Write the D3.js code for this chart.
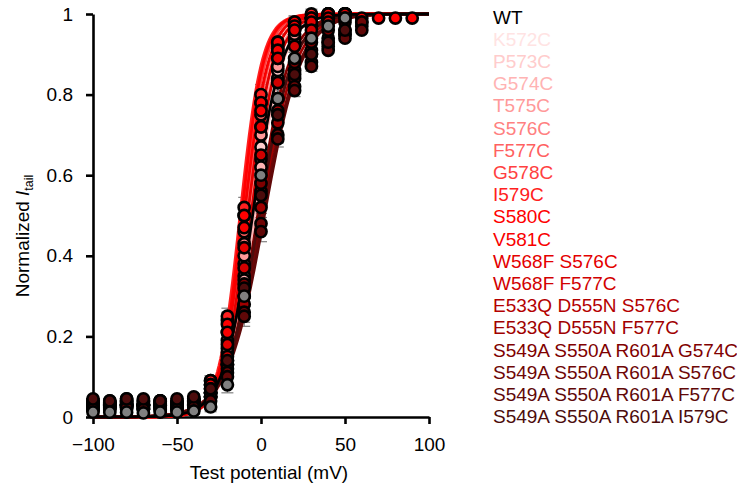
<!DOCTYPE html>
<html>
<head>
<meta charset="utf-8">
<script src="https://cdn.jsdelivr.net/npm/d3@7"></script>
<style>
  body { margin: 0; background: #fff; }
  text { font-family: "Liberation Sans", Arial, sans-serif; }
</style>
</head>
<body>
<div id="chart"></div>
<script>
// Test potentials (mV) at which tail currents were measured
const voltages = [-100, -90, -80, -70, -60, -50, -40, -30, -20, -10, 0, 10, 20, 30, 40, 50, 60, 70, 80, 90];

// Construct names and legend colours
const names = ["WT", "K572C", "P573C", "G574C", "T575C", "S576C", "F577C", "G578C", "I579C",
  "S580C", "V581C", "W568F S576C", "W568F F577C", "E533Q D555N S576C", "E533Q D555N F577C",
  "S549A S550A R601A G574C", "S549A S550A R601A S576C", "S549A S550A R601A F577C", "S549A S550A R601A I579C"];
const colors = ["#000000", "#ffe3e3", "#ffcccc", "#ffb3b3", "#ff9999", "#ff8080", "#ff6060", "#ff4040",
  "#ff2020", "#ff0000", "#f80000", "#e40000", "#d20000", "#b40000", "#a00000",
  "#800000", "#6e0606", "#600808", "#4c0c0c"];

// Normalized tail current, one list per construct
const wt      = [0.012, 0.012, 0.012, 0.010, 0.012, 0.012, 0.015, 0.025, 0.08, 0.30, 0.60, 0.79, 0.89, 0.94, 0.97, 0.99];
const k572c   = [0.030, 0.030, 0.025, 0.030, 0.020, 0.020, 0.020, 0.050, 0.14, 0.35, 0.64, 0.84, 0.93, 0.97, 0.99, 1.00];
const p573c   = [0.020, 0.025, 0.020, 0.020, 0.020, 0.025, 0.030, 0.060, 0.16, 0.38, 0.67, 0.86, 0.94, 0.98, 0.99, 1.00];
const g574c   = [0.030, 0.020, 0.030, 0.025, 0.030, 0.020, 0.030, 0.050, 0.13, 0.34, 0.62, 0.83, 0.93, 0.97, 0.99, 1.00];
const t575c   = [0.035, 0.030, 0.030, 0.030, 0.035, 0.030, 0.040, 0.060, 0.17, 0.40, 0.70, 0.87, 0.95, 0.98, 0.99, 1.00];
const s576c   = [0.030, 0.035, 0.040, 0.030, 0.030, 0.035, 0.040, 0.070, 0.19, 0.43, 0.72, 0.89, 0.96, 0.99, 1.00, 1.00];
const f577c   = [0.020, 0.030, 0.030, 0.020, 0.025, 0.030, 0.035, 0.080, 0.21, 0.46, 0.75, 0.91, 0.97, 0.99, 1.00, 1.00];
const g578c   = [0.030, 0.025, 0.030, 0.030, 0.030, 0.025, 0.030, 0.090, 0.24, 0.50, 0.78, 0.92, 0.97, 0.99, 1.00, 1.00];
const i579c   = [0.040, 0.035, 0.040, 0.035, 0.040, 0.035, 0.045, 0.090, 0.25, 0.52, 0.80, 0.93, 0.98, 1.00, 1.00, 1.00];
const s580c   = [0.030, 0.030, 0.035, 0.030, 0.030, 0.030, 0.040, 0.080, 0.23, 0.50, 0.78, 0.93, 0.98, 0.99, 0.99, 1.00, 0.99, 0.99, 0.99, 0.99];
const v581c   = [0.020, 0.030, 0.025, 0.020, 0.030, 0.025, 0.030, 0.080, 0.21, 0.47, 0.76, 0.91, 0.97, 0.99, 1.00, 1.00];
const w568fS576c = [0.035, 0.030, 0.035, 0.030, 0.035, 0.030, 0.035, 0.070, 0.18, 0.42, 0.72, 0.89, 0.96, 0.98, 0.99, 1.00];
const w568fF577c = [0.030, 0.030, 0.030, 0.030, 0.030, 0.030, 0.030, 0.060, 0.15, 0.37, 0.65, 0.83, 0.92, 0.96, 0.98, 0.99];
const eqdnS576c  = [0.040, 0.040, 0.045, 0.040, 0.040, 0.040, 0.045, 0.060, 0.13, 0.30, 0.56, 0.76, 0.86, 0.91, 0.94, 0.96, 0.98];
const eqdnF577c  = [0.030, 0.035, 0.030, 0.030, 0.030, 0.035, 0.040, 0.050, 0.12, 0.28, 0.52, 0.73, 0.84, 0.90, 0.93, 0.95, 0.97];
const triG574c   = [0.040, 0.035, 0.040, 0.040, 0.040, 0.035, 0.040, 0.060, 0.13, 0.33, 0.58, 0.79, 0.88, 0.93, 0.96, 0.98];
const triS576c   = [0.025, 0.025, 0.030, 0.025, 0.030, 0.025, 0.030, 0.050, 0.11, 0.26, 0.48, 0.70, 0.82, 0.88, 0.92, 0.95, 0.98];
const triF577c   = [0.020, 0.020, 0.025, 0.020, 0.020, 0.020, 0.025, 0.040, 0.10, 0.25, 0.46, 0.69, 0.81, 0.87, 0.91, 0.94, 0.96];
const triI579c   = [0.045, 0.040, 0.045, 0.045, 0.040, 0.045, 0.050, 0.070, 0.14, 0.32, 0.55, 0.75, 0.85, 0.90, 0.93, 0.96];

const seriesValues = [wt, k572c, p573c, g574c, t575c, s576c, f577c, g578c, i579c, s580c, v581c,
  w568fS576c, w568fF577c, eqdnS576c, eqdnF577c, triG574c, triS576c, triF577c, triI579c];

// Boltzmann fit parameters per construct: V1/2 (mV) and slope factor k (mV)
const fitVHalf = [-5, -5, -6, -4, -7, -8, -9, -11, -12.5, -11.5, -10, -8, -6, -1, 0, -2, 1, 2, -1];
const fitSlope = [8.7, 8.5, 8, 8.5, 8, 7.5, 7, 6.8, 6.5, 6.5, 7.2, 7.5, 8, 10, 10.5, 9.5, 11, 11, 10];

// Typical SEM at each test potential
const semByVoltage = [0.006, 0.006, 0.006, 0.006, 0.006, 0.006, 0.008, 0.012, 0.02, 0.025, 0.025, 0.02, 0.015, 0.012, 0.008, 0.005, 0.004, 0.004, 0.004, 0.004];

const xTicks = [-100, -50, 0, 50, 100];
const yTicks = [0, 0.2, 0.4, 0.6, 0.8, 1];

/////////////////////////////////////////////////////////
//////////////////// Set up the SVG /////////////////////
/////////////////////////////////////////////////////////
const width = 737, height = 488;
const fontSize = "19px";
const svg = d3.select("#chart").append("svg")
  .attr("width", width)
  .attr("height", height);

const x = d3.scaleLinear().domain([-100, 100]).range([93, 429]);
const y = d3.scaleLinear().domain([0, 1]).range([417, 14]);

// Build a tidy table of points
const series = names.map(function(name, i) {
  return {
    name: name,
    color: colors[i],
    vHalf: fitVHalf[i],
    slope: fitSlope[i],
    points: seriesValues[i].map(function(v, j) {
      return { v: voltages[j], i: v, sem: semByVoltage[j] };
    })
  };
});
// draw WT last so it sits on top, like the original
const drawOrder = series.slice(1).concat([series[0]]);

/////////////////////////////////////////////////////////
/////////////////////// Axes ////////////////////////////
/////////////////////////////////////////////////////////
const yAxis = svg.append("g")
  .attr("transform", "translate(93,0)")
  .call(d3.axisLeft(y).tickValues(yTicks).tickFormat(d3.format("~g"))
    .tickSize(7).tickSizeOuter(0).tickPadding(13));

const xAxis = svg.append("g")
  .attr("transform", "translate(0,417)")
  .call(d3.axisBottom(x).tickValues(xTicks).tickFormat(d3.format("d"))
    .tickSize(7).tickSizeOuter(0).tickPadding(14));

[xAxis, yAxis].forEach(function(ax) {
  ax.select(".domain").attr("stroke", "#000").attr("stroke-width", 2.6);
  ax.selectAll(".tick line").attr("stroke", "#000").attr("stroke-width", 2.6);
  ax.selectAll(".tick text")
    .attr("fill", "#000")
    .style("font-size", fontSize)
    .style("font-family", "'Liberation Sans', Arial, sans-serif");
});

// Axis titles
svg.append("text")
  .attr("x", 269)
  .attr("y", 479)
  .attr("text-anchor", "middle")
  .style("font-size", fontSize)
  .text("Test potential (mV)");

const yTitle = svg.append("text")
  .attr("transform", "translate(29,236) rotate(-90)")
  .attr("text-anchor", "middle")
  .style("font-size", fontSize);
yTitle.append("tspan").text("Normalized ");
yTitle.append("tspan").style("font-style", "italic").text("I");
yTitle.append("tspan").attr("dy", 4).style("font-size", "12.5px").text("tail");

/////////////////////////////////////////////////////////
//////////////////// Error bars /////////////////////////
/////////////////////////////////////////////////////////
const plot = svg.append("g");

const errG = plot.append("g").attr("class", "errors");
drawOrder.forEach(function(s) {
  const g = errG.append("g");
  g.selectAll("line.bar")
    .data(s.points)
    .enter().append("line")
    .attr("class", "bar")
    .attr("x1", function(d) { return x(d.v); })
    .attr("x2", function(d) { return x(d.v); })
    .attr("y1", function(d) { return y(d.i - d.sem); })
    .attr("y2", function(d) { return y(d.i + d.sem); })
    .attr("stroke", "#808080")
    .attr("stroke-width", 1.2);
  [-1, 1].forEach(function(sign) {
    g.selectAll("line.cap" + sign)
      .data(s.points)
      .enter().append("line")
      .attr("x1", function(d) { return x(d.v) - 6; })
      .attr("x2", function(d) { return x(d.v) + 6; })
      .attr("y1", function(d) { return y(d.i + sign * d.sem); })
      .attr("y2", function(d) { return y(d.i + sign * d.sem); })
      .attr("stroke", "#808080")
      .attr("stroke-width", 1.2);
  });
});

/////////////////////////////////////////////////////////
////////////////// Boltzmann fits ///////////////////////
/////////////////////////////////////////////////////////
const fitVoltages = d3.range(-100, 100.5, 1);
const line = d3.line()
  .x(function(d) { return x(d[0]); })
  .y(function(d) { return y(d[1]); });

plot.append("g").attr("class", "fits")
  .selectAll("path")
  .data(drawOrder)
  .enter().append("path")
  .attr("fill", "none")
  .attr("stroke", function(d) { return d.color; })
  .attr("stroke-width", 2.8)
  .attr("d", function(s) {
    return line(fitVoltages.map(function(v) {
      return [v, 1 / (1 + Math.exp((s.vHalf - v) / s.slope))];
    }));
  });

/////////////////////////////////////////////////////////
////////////////////// Markers //////////////////////////
/////////////////////////////////////////////////////////
const ptsG = plot.append("g").attr("class", "points");
drawOrder.forEach(function(s) {
  ptsG.append("g").selectAll("circle")
    .data(s.points)
    .enter().append("circle")
    .attr("cx", function(d) { return x(d.v); })
    .attr("cy", function(d) { return y(d.i); })
    .attr("r", 5.6)
    .attr("fill", s.name === "WT" ? "#808080" : s.color)
    .attr("stroke", "#000")
    .attr("stroke-width", 2.6);
});

/////////////////////////////////////////////////////////
////////////////////// Legend ///////////////////////////
/////////////////////////////////////////////////////////
svg.append("g").attr("class", "legend")
  .selectAll("text")
  .data(series)
  .enter().append("text")
  .attr("x", 493)
  .attr("y", function(d, i) { return 23.5 + i * 22.2; })
  .attr("fill", function(d) { return d.color; })
  .style("font-size", fontSize)
  .text(function(d) { return d.name; });
</script>
</body>
</html>
